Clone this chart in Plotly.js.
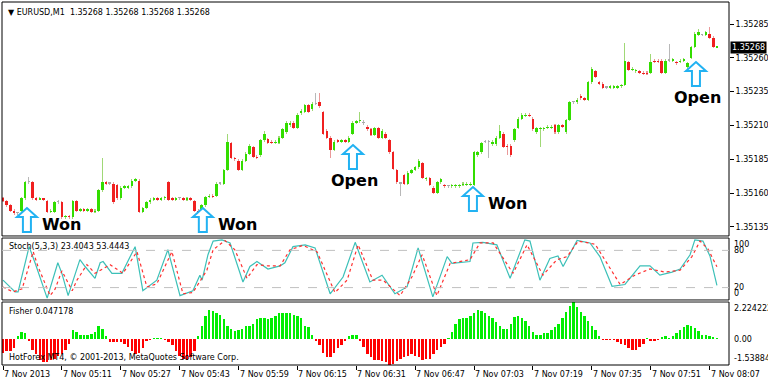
<!DOCTYPE html>
<html><head><meta charset="utf-8">
<script src="https://cdn.plot.ly/plotly-3.0.1.min.js"></script>
<style>html,body{margin:0;padding:0;background:#fff;}#chart{width:768px;height:381px;}</style>
</head><body><div id="chart"></div>
<script>
// prices are stored in points above BASE (1 point = 0.00001)
const BASE = 1.351;
const openPts = [56,54,51,47,45,47,56,68,68,56, 55,56,54,46,46,53,53,42,43,42, 54,47,48,47,48,46,47,62,68,67,
 67,66,56,64,64,65,69,69,46,49, 53,55,56,55,56,68,56,55,56,56, 55,56,54,47,47,51,57,58,58,67,
 67,77,97,86,84,77,84,89,94,87, 88,99,100,98,97,97,101,105,110,112, 108,119,120,125,122,126,127,120,106,101,
 92,99,98,99,98,104,112,113,112,109, 107,103,108,101,104,99,90,77,67,73, 67,75,77,79,82,70,71,64,60,68,
 66,65,65,65,65,66,66,66,66,88, 90,98,98,96,96,101,104,95,95,99, 108,115,117,118,115,105,107,107,108,108,
 110,105,110,105,114,127,127,132,130,129, 142,150,142,141,138,138,138,138,139,140, 157,151,150,150,149,149,149,158,158,158,
 149,158,158,157,157,158,153,160,168,177, 177,177,178,175,167.6];
const highPts = [57,55,52,48,46,57,69,72,69,57, 57,56,55,48,54,55,54,44,44,55, 55,49,49,49,49,48,63,86,69,68,
 68,67,65,66,66,70,71,70,50,54, 56,57,57,57,58,69,57,57,57,57, 57,57,55,48,52,58,59,59,68,68,
 78,104,98,87,85,85,90,96,95,88, 100,106,101,99,99,102,108,113,113,113, 119,122,126,126,127,134,134,121,107,102,
 99,100,100,100,102,113,114,120,114,110, 108,109,109,107,105,100,91,78,68,74, 76,78,80,85,83,72,72,65,69,71,
 67,66,67,67,67,68,68,68,91,91, 98,99,99,99,102,110,105,96,96,108, 116,119,119,119,116,109,109,109,110,110,
 111,111,111,115,128,128,130,133,131,143, 153,151,143,142,139,140,140,140,141,171, 158,153,152,151,150,150,163,159,159,159,
 159,170,160,158,159,160,157,169,179,181, 178,180,183,176,169];
const lowPts = [53,50,46,44,44,46,55,67,55,54, 55,54,45,45,45,52,41,41,41,41, 46,46,46,46,45,45,46,61,66,66,
 52,55,55,63,63,64,68,45,45,48, 52,54,54,54,55,54,54,54,55,54, 54,54,46,45,46,50,56,56,57,66,
 66,76,85,84,76,76,83,88,86,85, 87,98,96,96,96,96,100,104,109,107, 107,118,119,119,121,125,123,103,100,86,
 91,97,97,97,97,103,111,112,110,106, 102,102,100,100,100,89,77,67,58,66, 66,74,76,78,70,69,65,59,59,67,
 64,64,64,64,64,65,65,65,65,87, 89,97,86,95,95,100,93,88,87,98, 107,114,116,116,106,104,94,106,107,107,
 104,104,108,104,113,126,126,129,128,128, 141,145,140,137,137,137,137,137,138,139, 150,150,149,148,147,147,148,156,156,148,
 148,157,157,155,156,157,150,159,167,176, 176,176,174,167,167];
const closePts = [54,51,47,45,45,56,68,68,56,55, 56,55,46,47,53,53,42,43,42,54, 47,48,47,48,46,47,62,68,67,67,
 53,56,64,65,65,69,70,46,49,53, 55,56,55,56,57,55,55,56,56,55, 56,55,47,46,51,57,58,57,67,67,
 77,98,86,85,77,84,89,95,87,86, 99,104,97,97,98,101,107,112,112,108, 118,121,125,120,126,126,124,104,101,92,
 98,98,99,98,101,112,113,114,112,107, 103,108,101,106,101,90,78,68,67,67, 75,77,79,84,71,71,66,60,68,70,
 65,65,66,66,66,67,67,67,90,90, 97,98,98,98,101,106,94,94,88,107, 115,118,118,117,107,108,108,108,109,109,
 105,110,109,114,127,127,129,130,129,142, 152,146,141,138,138,139,139,139,140,158, 151,152,151,149,148,148,157,157,157,149,
 158,158,159,156,158,159,156,168,178,179, 177,179,175,168,168];

const fisherVals = [-0.82,-0.73,-0.73,-0.54,0.18,0.45,0.36,-0.09,-0.63,-0.91,
 -1.27,-1.36,-1.36,-1.27,-1.18,-1.0,-0.91,-0.63,-0.27,0.54,
 0.45,0.27,0.27,0.27,0.32,0.45,0.82,0.63,0.18,-0.18,
 -0.18,-0.18,-0.18,-0.27,-0.45,-0.73,-0.91,-0.82,-0.54,-0.09,
 -0.05,0.05,0.05,0.05,-0.05,-0.18,-0.36,-0.73,-1.0,-1.18,
 -1.27,-1.09,-0.73,0.18,0.82,1.36,1.72,1.68,1.54,1.45,
 1.18,0.82,0.63,0.5,0.54,0.63,0.82,0.82,0.91,1.18,
 1.27,1.27,1.18,1.27,1.36,1.54,1.59,1.59,1.54,1.45,
 1.36,1.27,0.82,0.73,0.27,-0.09,-0.36,-0.82,-1.09,-1.09,
 -0.82,-0.54,-0.36,-0.09,0.18,0.27,0.27,-0.09,-0.45,-0.91,
 -1.09,-1.27,-1.27,-1.32,-1.36,-1.538846,-1.45,-1.32,-1.18,-1.09,
 -1.0,-0.91,-1.0,-1.09,-1.27,-1.18,-1.18,-0.91,-0.63,-0.45,
 -0.27,0.09,0.45,0.91,1.22,1.27,1.27,1.36,1.54,1.77,
 1.68,1.59,1.41,1.27,1.0,0.82,0.63,0.63,0.91,1.32,
 1.36,1.27,1.09,0.77,0.45,0.27,0.27,0.36,0.36,0.54,
 0.73,0.91,1.27,1.63,2.0,2.224222,1.9,1.63,1.36,1.09,
 0.82,0.54,0.18,-0.05,-0.05,-0.05,-0.05,-0.18,-0.27,-0.36,
 -0.54,-0.63,-0.63,-0.45,-0.27,0.09,-0.09,-0.09,-0.05,0.14,
 0.18,0.09,0.18,0.36,0.54,0.73,0.86,0.77,0.68,0.5,
 0.27,0.23,0.2,0.14,0.047178];

// stochastic lines read at their turning points (x in candle index)
const stochMainX = [0,3.3,4.1,7.1,8.7,12,14.9,16,17.7,20.9,22.3,25,26.4,27.2,29.6,32.3,35.9,38,41.8,44.8,48.1,51.6,53.5,54.1,55.7,57.1,59.5,61.7,65.2,67.1,69,72,75.3,76.6,78.8,82.1,84.8,88.9,92.4,95.7,99.7,103,106.5,109.8,112.8,116.8,120.7,122,126.9,127.7,130.4,134.2,137.8,141.8,143.2,145.9,148.6,150.8,152.2,156,159.5,162.2,165.5,169,173.1,175.8,178.5,181.8,184,186.7,188,190.2,192.1,194];
const stochMainY = [32,13,13,86,60,3,60,43,7,65,54,35,60,62,43,43,86,15,32,81,7,15,40,32,73,95,97,92,29,54,62,50,55,60,86,89,84,10,37,93,29,40,10,21,84,5,70,59,62,92,93,89,35,97,95,32,67,71,54,96,92,70,22,25,55,55,40,45,50,73,97,95,71,23.4043];
const stochSigX = [0,2.7,5.2,8.2,9.5,12.8,14.1,16,18.8,20.1,22.8,25,29.1,32.6,36.4,39.1,41.8,45.9,48.9,51.6,55.4,57.1,60.3,63,66.3,69,72,75.3,78,81.5,85.3,90.2,93.5,96.5,100.5,103.3,107.9,111.1,113.9,117.9,121.5,126.9,129.6,133.2,138.6,142.4,146.7,150.5,153.3,156.3,160.9,164.1,167.7,171.7,175.8,179.9,184,187.2,189.4,191.6,194];
const stochSigY = [21,13,18,78,54,7,17,47,15,32,57,43,57,43,78,21,26,78,10,12,48,81,96,81,35,57,55,55,81,88,78,12,32,89,32,32,7,37,73,7,59,65,92,92,43,89,40,65,70,95,90,60,25,40,50,45,48,70,95,82,53.4443];

const tickMinutes = [0,16,32,48,64,80,96,112,128,144,160,176,192];
const tickLabels = ["7 Nov 2013","7 Nov 05:11","7 Nov 05:27","7 Nov 05:43","7 Nov 05:59","7 Nov 06:15","7 Nov 06:31","7 Nov 06:47","7 Nov 07:03","7 Nov 07:19","7 Nov 07:35","7 Nov 07:51","7 Nov 08:07"];
const priceTicks = [1.35135,1.35160,1.35185,1.35210,1.35235,1.35260,1.35285];

const signalIdx = [6.5,54.3,95.1,127.7,188.3];
const signalPts = [48.9,48.9,95.5,64.4,156.9];
const signalText = ["Won","Won","Open","Won","Open"];

// ---------- build ----------
const N = closePts.length;
const idx = closePts.map((_, i) => i);
const P = v => BASE + v / 100000;
const GREEN = '#33DD00', RED = '#F02020', GRAY = '#A8A8A8';
const candleCol = idx.map(i => closePts[i] > openPts[i] ? GREEN : (closePts[i] < openPts[i] ? RED : GRAY));
const wickCol = idx.map(i => closePts[i] > openPts[i] ? 'rgba(120,200,60,0.7)' : (closePts[i] < openPts[i] ? 'rgba(225,110,110,0.7)' : '#B8B8B8'));
const minBody = 0.8;

const wickTrace = {type:'bar', x:idx, base:idx.map(i=>P(lowPts[i])), y:idx.map(i=>(highPts[i]-lowPts[i])/100000),
  width:0.28, marker:{color:wickCol, line:{width:0}}, xaxis:'x', yaxis:'y', hoverinfo:'skip'};
const bodyTrace = {type:'bar', x:idx, base:idx.map(i=>P(Math.min(openPts[i],closePts[i]))),
  y:idx.map(i=>Math.max(Math.abs(closePts[i]-openPts[i]),minBody)/100000),
  width:0.68, marker:{color:candleCol, line:{width:0}}, xaxis:'x', yaxis:'y', hoverinfo:'skip'};
const fisherTrace = {type:'bar', x:idx, y:fisherVals, width:0.66,
  marker:{color:fisherVals.map(v => v >= 0 ? '#00EE00' : '#FF0000'), line:{width:0}}, xaxis:'x', yaxis:'y3'};
const stochMain = {type:'scatter', mode:'lines', x:stochMainX, y:stochMainY, line:{color:'#3CC0B8', width:1.2}, xaxis:'x', yaxis:'y2'};
const stochSig = {type:'scatter', mode:'lines', x:stochSigX, y:stochSigY, line:{color:'#FF3030', width:1.2, dash:'dot'}, xaxis:'x', yaxis:'y2'};

const XR = [-0.272, 197.28], YR = [1.351282, 1.353013];
const plotW = 768 - 2 - 39, priceH = 234;
const pxX = plotW / (XR[1]-XR[0]);
const pxY = priceH / (YR[1]-YR[0]);

const shapes = [];
const annotations = [];
// arrows
for (let k = 0; k < signalIdx.length; k++) {
  const cx = signalIdx[k], ty = P(signalPts[k]);
  const pts = [[0,0],[10,9],[4,9],[4,24],[-4,24],[-4,9],[-10,9]];
  const path = pts.map((p,j)=> (j?'L':'M') + (cx + p[0]/pxX).toFixed(4) + ',' + (ty - p[1]/pxY).toFixed(7)).join(' ') + ' Z';
  shapes.push({type:'path', xref:'x', yref:'y', path:path, line:{color:'#22B2F2', width:2}, fillcolor:'#FFFFFF'});
  const isWon = signalText[k] === 'Won';
  annotations.push({xref:'x', yref:'y', x:cx, y:ty, text:'<b>'+signalText[k]+'</b>', showarrow:false,
    xanchor: isWon ? 'left' : 'center', yanchor:'middle', xshift: isWon ? 13 : 2, yshift: isWon ? -16 : -35,
    font:{family:'DejaVu Sans', size:16, color:'#000'}});
}
// panel frames & separators
[['y domain'],['y2 domain'],['y3 domain']].forEach(r => shapes.push({type:'rect', xref:'paper', yref:r[0], x0:0, x1:1, y0:0, y1:1, line:{color:'#000', width:1}, fillcolor:'rgba(0,0,0,0)', layer:'above'}));
shapes.push({type:'rect', xref:'paper', yref:'paper', x0:0, x1:1, y0:0.3499, y1:0.3554, line:{width:0}, fillcolor:'#909090'});
shapes.push({type:'rect', xref:'paper', yref:'paper', x0:0, x1:1, y0:0.1736, y1:0.1791, line:{width:0}, fillcolor:'#909090'});
// stoch levels
[20,80].forEach(v => shapes.push({type:'line', xref:'paper', yref:'y2', x0:0, x1:1, y0:v, y1:v, line:{color:'#C0C0C0', width:1, dash:'dash'}}));

const f8 = {family:'DejaVu Sans', size:8, color:'#000'};
const lastClose = P(closePts[N-1]).toFixed(5);
annotations.push({xref:'paper', yref:'paper', x:0, y:1, xanchor:'left', yanchor:'top', xshift:4, yshift:-4, showarrow:false, font:f8,
  text:'\u25BC EURUSD,M1  ' + [lastClose,lastClose,lastClose,lastClose].join(' ')});
annotations.push({xref:'paper', yref:'y', x:1, y:P(closePts[N-1]), xanchor:'left', yanchor:'middle', xshift:1, showarrow:false,
  text:lastClose, bgcolor:'#000', borderpad:1, font:{family:'DejaVu Sans', size:8, color:'#fff'}});
annotations.push({xref:'paper', yref:'y2 domain', x:0, y:1, xanchor:'left', yanchor:'top', xshift:5, yshift:-2, showarrow:false, font:f8,
  text:'Stoch(5,3,3) ' + stochMainY[stochMainY.length-1].toFixed(4) + ' ' + stochSigY[stochSigY.length-1].toFixed(4)});
annotations.push({xref:'paper', yref:'y3 domain', x:0, y:1, xanchor:'left', yanchor:'top', xshift:5, yshift:-3, showarrow:false, font:f8,
  text:'Fisher ' + fisherVals[N-1].toFixed(6)});
annotations.push({xref:'paper', yref:'y3 domain', x:0, y:0, xanchor:'left', yanchor:'bottom', xshift:5, yshift:1, showarrow:false, font:f8,
  text:'HotForex MT4, \u00A9 2001-2013, MetaQuotes Software Corp.'});
// stoch right labels
[[100,'top'],[80,'middle'],[20,'middle'],[0,'bottom']].forEach(a => annotations.push({xref:'paper', yref:'y2', x:1, y:a[0], xanchor:'left', yanchor:a[1], xshift:3, showarrow:false, font:f8, text:String(a[0])}));
const fMax = Math.max(...fisherVals), fMin = Math.min(...fisherVals);
annotations.push({xref:'paper', yref:'y3', x:1, y:fMax, xanchor:'left', yanchor:'top', xshift:3, showarrow:false, font:f8, text:fMax.toFixed(6)});
annotations.push({xref:'paper', yref:'y3', x:1, y:0, xanchor:'left', yanchor:'middle', xshift:3, showarrow:false, font:f8, text:'0.00'});
annotations.push({xref:'paper', yref:'y3', x:1, y:fMin, xanchor:'left', yanchor:'bottom', xshift:3, showarrow:false, font:f8, text:fMin.toFixed(6)});
// x labels (left aligned at ticks)
tickMinutes.forEach((t,k) => annotations.push({xref:'x', yref:'paper', x:t, y:0, xanchor:'left', yanchor:'top', xshift:-1, yshift:-3, showarrow:false, font:f8, text:tickLabels[k]}));

const layout = {
  width:768, height:381, margin:{l:2, r:39, t:2, b:16, pad:0},
  paper_bgcolor:'#fff', plot_bgcolor:'#fff', showlegend:false, barmode:'overlay', bargap:0,
  font:f8,
  xaxis:{range:XR, anchor:'y3', tickvals:tickMinutes, showticklabels:false, ticks:'outside', ticklen:4, tickcolor:'#000',
    showgrid:false, zeroline:false, showline:false},
  yaxis:{domain:[0.3554,1], range:YR, side:'right', anchor:'x', tickvals:priceTicks, tickformat:'.5f', ticks:'outside', ticklen:4,
    tickcolor:'#000', tickfont:f8, showgrid:false, zeroline:false, showline:false},
  yaxis2:{domain:[0.1791,0.3499], range:[0,100], anchor:'x', showticklabels:false, showgrid:false, zeroline:false},
  yaxis3:{domain:[0,0.1736], range:[fMin,fMax], anchor:'x', showticklabels:false, showgrid:false, zeroline:false},
  shapes:shapes, annotations:annotations
};
Plotly.newPlot('chart', [wickTrace, bodyTrace, fisherTrace, stochMain, stochSig], layout, {staticPlot:true, displayModeBar:false});
</script></body></html>
